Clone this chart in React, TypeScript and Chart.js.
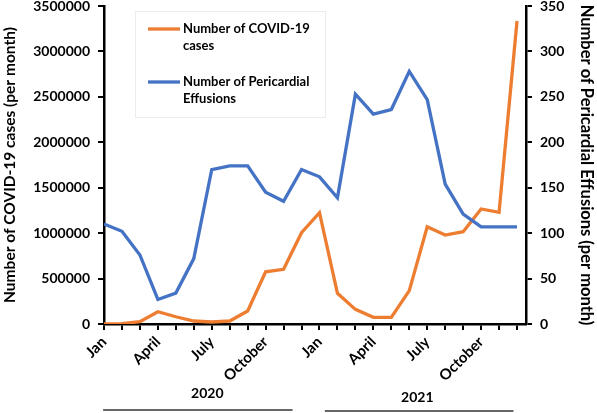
import React, { useEffect, useRef } from 'react';
import { Chart, registerables } from 'chart.js';

Chart.register(...registerables);

const months = [
  'Jan 2020', 'Feb 2020', 'Mar 2020', 'Apr 2020', 'May 2020', 'Jun 2020',
  'Jul 2020', 'Aug 2020', 'Sep 2020', 'Oct 2020', 'Nov 2020', 'Dec 2020',
  'Jan 2021', 'Feb 2021', 'Mar 2021', 'Apr 2021', 'May 2021', 'Jun 2021',
  'Jul 2021', 'Aug 2021', 'Sep 2021', 'Oct 2021', 'Nov 2021', 'Dec 2021',
];

const monthTickLabels = [
  'Jan', '', '', 'April', '', '', 'July', '', '', 'October', '', '',
  'Jan', '', '', 'April', '', '', 'July', '', '', 'October', '', '',
];

const covidCases = [
  1000, 3000, 25000, 135000, 80000, 33000, 22000, 33000, 143000, 575000, 602000, 1005000,
  1225000, 338000, 161000, 73000, 73000, 367000, 1071000, 979000, 1016000, 1266000, 1229000, 3335000,
];

const pericardialEffusions = [
  110, 102, 76, 27, 34, 72, 170, 174, 174, 145, 135, 170,
  162, 139, 253, 231, 236, 278, 247, 154, 121, 107, 107, 107,
];

const years = ['2020', '2021'];
const seriesNames = ['Number of COVID-19 cases', 'Number of Pericardial Effusions'];
const leftAxisTitle = 'Number of COVID-19 cases (per month)';
const rightAxisTitle = 'Number of Pericardial Effusions (per month)';

const ORANGE = '#ED7D31';
const BLUE = '#4472C4';
const FONT = 'Lato, "Open Sans", sans-serif';

function wrapText(ctx: CanvasRenderingContext2D, text: string, maxWidth: number): string[] {
  const words = text.split(' ');
  const lines: string[] = [];
  let cur = '';
  for (const w of words) {
    const test = cur ? cur + ' ' + w : w;
    if (ctx.measureText(test).width > maxWidth && cur) {
      lines.push(cur);
      cur = w;
    } else {
      cur = test;
    }
  }
  if (cur) lines.push(cur);
  return lines;
}

const legendPlugin = {
  id: 'customLegend',
  afterDraw(chart: any) {
    const ctx: CanvasRenderingContext2D = chart.ctx;
    ctx.save();
    ctx.fillStyle = '#ffffff';
    ctx.fillRect(135, 11, 190, 106);
    ctx.strokeStyle = '#ececec';
    ctx.lineWidth = 1;
    ctx.strokeRect(135.5, 11.5, 190, 106);
    const colors = [ORANGE, BLUE];
    const rowY = [29, 82];
    ctx.font = `bold 13px ${FONT}`;
    ctx.textBaseline = 'middle';
    ctx.textAlign = 'left';
    seriesNames.forEach((name, i) => {
      ctx.strokeStyle = colors[i];
      ctx.lineWidth = 3.3;
      ctx.beginPath();
      ctx.moveTo(148, rowY[i]);
      ctx.lineTo(180, rowY[i]);
      ctx.stroke();
      ctx.fillStyle = '#000000';
      const lines = wrapText(ctx, name, 135);
      lines.forEach((ln, j) => ctx.fillText(ln, 183, rowY[i] + j * 17));
    });
    ctx.restore();
  },
};

const yearPlugin = {
  id: 'yearLabels',
  afterDraw(chart: any) {
    const ctx: CanvasRenderingContext2D = chart.ctx;
    const x = chart.scales.x;
    const spans = [
      { from: -0.05, to: 10.5, center: 5.75, textY: 393, lineY: 410 },
      { from: 12.3, to: 22.8, center: 17.45, textY: 397, lineY: 411 },
    ];
    ctx.save();
    ctx.font = `bold 14px ${FONT}`;
    ctx.fillStyle = '#000000';
    ctx.textAlign = 'center';
    ctx.textBaseline = 'middle';
    years.forEach((yr, i) => {
      const s = spans[i];
      ctx.fillText(yr, x.getPixelForValue(s.center), s.textY);
      ctx.strokeStyle = '#333333';
      ctx.lineWidth = 1.5;
      ctx.beginPath();
      ctx.moveTo(x.getPixelForValue(s.from), s.lineY);
      ctx.lineTo(x.getPixelForValue(s.to), s.lineY);
      ctx.stroke();
    });
    ctx.restore();
  },
};

export default function App() {
  const canvasRef = useRef<HTMLCanvasElement | null>(null);

  useEffect(() => {
    document.body.style.margin = '0';
    const canvas = canvasRef.current;
    if (!canvas) return;
    const tickGrid = {
      display: true,
      drawOnChartArea: false,
      drawTicks: true,
      tickLength: 6,
      tickColor: '#000',
      tickWidth: 2,
      color: '#000',
      lineWidth: 2,
    };
    const chart = new Chart(canvas, {
      type: 'line',
      data: {
        datasets: [
          {
            label: seriesNames[0],
            data: covidCases.map((v, i) => ({ x: i, y: v })),
            borderColor: ORANGE,
            backgroundColor: ORANGE,
            borderWidth: 3.3,
            pointRadius: 0,
            tension: 0,
            yAxisID: 'y',
            order: 1,
          },
          {
            label: seriesNames[1],
            data: pericardialEffusions.map((v, i) => ({ x: i, y: v })),
            borderColor: BLUE,
            backgroundColor: BLUE,
            borderWidth: 3.3,
            pointRadius: 0,
            tension: 0,
            yAxisID: 'y1',
            order: 0,
          },
        ],
      },
      options: {
        animation: false,
        responsive: true,
        maintainAspectRatio: false,
        layout: { padding: { top: 6, left: 0, right: 0, bottom: 0 } },
        plugins: {
          legend: { display: false },
          tooltip: { enabled: false },
        },
        scales: {
          x: {
            type: 'linear',
            min: 0,
            max: 23.5,
            afterBuildTicks: (scale: any) => {
              scale.ticks = months.map((_, i) => ({ value: i }));
            },
            afterFit: (scale: any) => {
              scale.height = 89;
              scale.paddingLeft = 0;
              scale.paddingRight = 0;
            },
            ticks: {
              autoSkip: false,
              maxRotation: 45,
              minRotation: 45,
              padding: 3,
              color: '#000',
              font: { family: FONT, size: 15, weight: 'bold' },
              callback: (value: any) => monthTickLabels[value] ?? '',
            },
            grid: tickGrid,
            border: { display: true, color: '#000', width: 2.5 },
          },
          y: {
            type: 'linear',
            position: 'left',
            min: 0,
            max: 3500000,
            afterFit: (scale: any) => {
              scale.width = 104;
              scale.paddingTop = 0;
              scale.paddingBottom = 0;
            },
            ticks: {
              stepSize: 500000,
              padding: 8,
              color: '#000',
              font: { family: FONT, size: 14, weight: 'bold' },
              callback: (value: any) => String(value),
            },
            grid: tickGrid,
            border: { display: true, color: '#000', width: 2.5 },
            title: {
              display: true,
              text: leftAxisTitle,
              color: '#000',
              font: { family: FONT, size: 15.5, weight: 'bold', lineHeight: 1.2 },
              padding: { top: 1, bottom: 0 },
            },
          },
          y1: {
            type: 'linear',
            position: 'right',
            min: 0,
            max: 350,
            afterFit: (scale: any) => {
              scale.width = 71;
              scale.paddingTop = 0;
              scale.paddingBottom = 0;
            },
            ticks: {
              stepSize: 50,
              padding: 8,
              color: '#000',
              font: { family: FONT, size: 14, weight: 'bold' },
            },
            grid: tickGrid,
            border: { display: true, color: '#000', width: 2.5 },
            title: {
              display: true,
              text: rightAxisTitle,
              color: '#000',
              font: { family: FONT, size: 16.5, weight: 'bold', lineHeight: 1 },
              padding: { top: 2, bottom: 0 },
            },
          },
        },
      },
      plugins: [legendPlugin, yearPlugin],
    } as any);
    return () => chart.destroy();
  }, []);

  return (
    <div style={{ width: 597, height: 413, position: 'relative' }}>
      <canvas ref={canvasRef} />
    </div>
  );
}
